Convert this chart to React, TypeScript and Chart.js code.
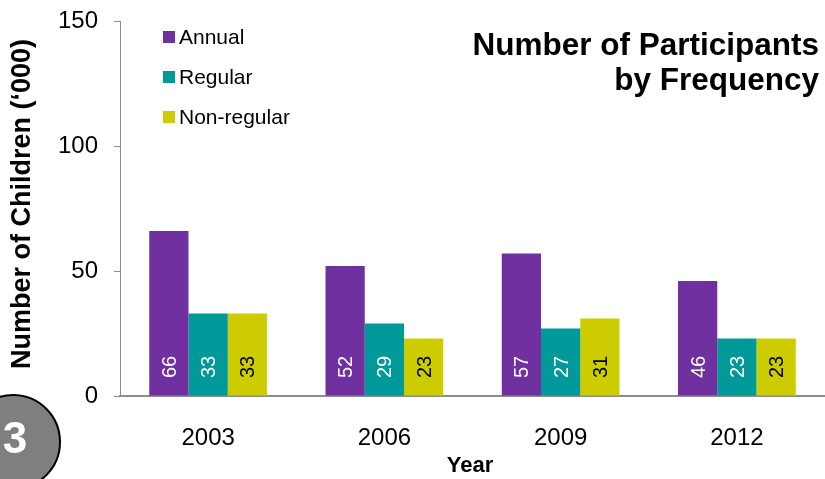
import React, { useEffect, useRef } from "react";
import { Chart, registerables } from "chart.js";

Chart.register(...registerables);

const years = ["2003", "2006", "2009", "2012"];
const annual = [66, 52, 57, 46];
const regular = [33, 29, 27, 23];
const nonRegular = [33, 23, 31, 23];
const yTicks = [0, 50, 100, 150];
const seriesNames = ["Annual", "Regular", "Non-regular"];
const seriesColors = ["#7030A0", "#009999", "#CCCC00"];
const labelColors = ["#FFFFFF", "#FFFFFF", "#000000"];
const titleLines = ["Number of Participants", "by Frequency"];
const yTitle = "Number of Children (\u2018000)";
const xTitle = "Year";
const badge = "3";

const FONT = "'Liberation Sans', Arial, sans-serif";

const overlayPlugin = {
  id: "overlay",
  afterDatasetsDraw(chart: any) {
    const ctx = chart.ctx;
    ctx.save();
    chart.data.datasets.forEach((ds: any, di: number) => {
      const meta = chart.getDatasetMeta(di);
      meta.data.forEach((bar: any, i: number) => {
        const v = ds.data[i];
        const base = chart.scales.y.getPixelForValue(0);
        ctx.save();
        ctx.translate(bar.x, base - 18);
        ctx.rotate(-Math.PI / 2);
        ctx.font = `20px ${FONT}`;
        ctx.fillStyle = labelColors[di];
        ctx.textAlign = "left";
        ctx.textBaseline = "alphabetic";
        ctx.fillText(String(v), 0, 7);
        ctx.restore();
      });
    });
    ctx.restore();
  },
  afterDraw(chart: any) {
    const ctx = chart.ctx;
    ctx.save();
    // legend
    seriesNames.forEach((name, i) => {
      const cy = 37 + i * 40;
      ctx.fillStyle = seriesColors[i];
      ctx.fillRect(163, cy - 6, 12, 12);
      ctx.fillStyle = "#000";
      ctx.font = `21px ${FONT}`;
      ctx.textAlign = "left";
      ctx.textBaseline = "middle";
      ctx.fillText(name, 179, cy + 1);
    });
    // title
    ctx.font = `bold 31.5px ${FONT}`;
    ctx.fillStyle = "#000";
    ctx.textAlign = "right";
    ctx.textBaseline = "middle";
    titleLines.forEach((t, i) => ctx.fillText(t, 819, 46 + i * 35));
    // y title
    ctx.save();
    ctx.translate(23, 204);
    ctx.rotate(-Math.PI / 2);
    ctx.font = `bold 27px ${FONT}`;
    ctx.textAlign = "center";
    ctx.textBaseline = "middle";
    ctx.fillText(yTitle, 0, 0);
    ctx.restore();
    // x title
    ctx.font = `bold 22px ${FONT}`;
    ctx.textAlign = "center";
    ctx.textBaseline = "middle";
    ctx.fillText(xTitle, 470, 466);
    // badge circle
    ctx.beginPath();
    ctx.arc(13, 442, 47, 0, Math.PI * 2);
    ctx.fillStyle = "#7F7F7F";
    ctx.fill();
    ctx.lineWidth = 2;
    ctx.strokeStyle = "#000";
    ctx.stroke();
    ctx.font = `bold 44px ${FONT}`;
    ctx.fillStyle = "#FFFFFF";
    ctx.textAlign = "center";
    ctx.textBaseline = "middle";
    ctx.fillText(badge, 15, 441);
    ctx.restore();
  },
};

export default function App() {
  const ref = useRef<HTMLCanvasElement>(null);
  useEffect(() => {
    const canvas = ref.current!;
    const chart = new Chart(canvas, {
      type: "bar",
      data: {
        labels: years,
        datasets: [annual, regular, nonRegular].map((d, i) => ({
          label: seriesNames[i],
          data: d,
          backgroundColor: seriesColors[i],
          borderWidth: 0,
          barPercentage: 1,
          categoryPercentage: 0.668,
        })),
      },
      options: {
        responsive: false,
        animation: false,
        devicePixelRatio: 1,
        layout: { padding: { top: 21, left: 0, right: 0, bottom: 0 } },
        plugins: {
          legend: { display: false },
          title: { display: false },
          tooltip: { enabled: false },
        },
        scales: {
          x: {
            grid: { display: true, drawOnChartArea: false, drawTicks: false },
            border: { display: true, color: "#8C8C8C", width: 2 },
            ticks: {
              color: "#000",
              font: { family: FONT, size: 24 },
              padding: 28,
            },
            afterFit(scale: any) {
              scale.height = 83;
              scale.paddingLeft = 0;
              scale.paddingRight = 0;
            },
          },
          y: {
            min: 0,
            max: 150,
            afterBuildTicks(scale: any) {
              scale.ticks = yTicks.map((v) => ({ value: v }));
            },
            grid: {
              display: true,
              drawOnChartArea: false,
              drawTicks: true,
              tickLength: 6,
              color: "#8C8C8C",
            },
            border: { display: true, color: "#8C8C8C", width: 1 },
            ticks: {
              color: "#000",
              font: { family: FONT, size: 24 },
              padding: 16,
            },
            afterFit(scale: any) {
              scale.width = 120;
              scale.paddingTop = 0;
              scale.paddingBottom = 0;
            },
          },
        },
      },
      plugins: [overlayPlugin],
    });
    return () => chart.destroy();
  }, []);
  return (
    <div style={{ position: "absolute", left: 0, top: 0, width: 825, height: 479, background: "#fff" }}>
      <canvas ref={ref} width={825} height={479} style={{ display: "block" }} />
    </div>
  );
}
